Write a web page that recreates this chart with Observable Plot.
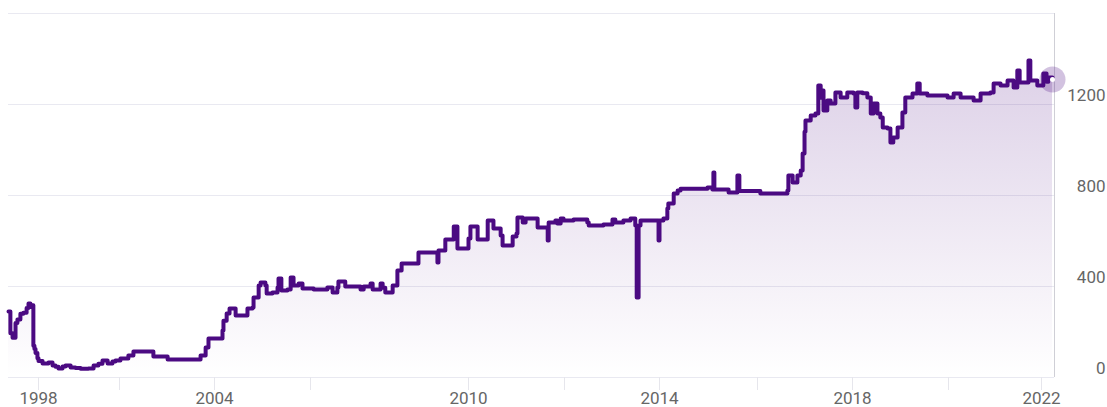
<!DOCTYPE html>
<html><head><meta charset="utf-8">
<script src="https://cdn.jsdelivr.net/npm/d3@7"></script>
<script src="https://cdn.jsdelivr.net/npm/@observablehq/plot@0.6"></script>
<style>body{margin:0;background:#fff;} #chart svg{display:block;}</style>
</head><body><div id="chart"></div>
<script>
// Decimal years of each level change
const years = [1996.89, 1996.96, 1997.04, 1997.15, 1997.22, 1997.33, 1997.44, 1997.56, 1997.63, 1997.70, 1997.78, 1997.81, 1997.85, 1997.89, 1997.96, 1998.00, 1998.15, 1998.37, 1998.52, 1998.63, 1998.74, 1998.89, 1999.00, 1999.19, 1999.37, 1999.56, 1999.85, 2000.04, 2000.22, 2000.37, 2000.56, 2000.74, 2000.85, 2001.03, 2001.28, 2001.44, 2002.07, 2002.52, 2003.56, 2003.72, 2003.81, 2004.25, 2004.28, 2004.38, 2004.47, 2004.66, 2005.03, 2005.19, 2005.22, 2005.38, 2005.44, 2005.59, 2005.63, 2005.81, 2005.97, 2006.00, 2006.09, 2006.28, 2006.38, 2006.47, 2006.63, 2006.75, 2007.06, 2007.32, 2007.42, 2007.51, 2007.53, 2007.66, 2007.95, 2008.01, 2008.14, 2008.18, 2008.33, 2008.37, 2008.42, 2008.56, 2008.65, 2008.73, 2009.05, 2009.41, 2009.43, 2009.56, 2009.72, 2009.79, 2010.00, 2010.04, 2010.19, 2010.40, 2010.52, 2010.67, 2010.71, 2010.92, 2011.00, 2011.02, 2011.13, 2011.19, 2011.44, 2011.65, 2011.67, 2011.81, 2011.85, 2011.92, 2011.98, 2012.19, 2012.48, 2012.51, 2012.69, 2012.82, 2013.01, 2013.07, 2013.24, 2013.39, 2013.49, 2013.52, 2013.56, 2013.60, 2013.98, 2014.00, 2014.08, 2014.16, 2014.18, 2014.29, 2014.37, 2014.43, 2014.98, 2015.08, 2015.10, 2015.12, 2015.41, 2015.59, 2015.63, 2016.06, 2016.63, 2016.65, 2016.74, 2016.84, 2016.91, 2016.95, 2016.99, 2017.01, 2017.12, 2017.22, 2017.28, 2017.33, 2017.37, 2017.39, 2017.47, 2017.54, 2017.64, 2017.75, 2017.89, 2018.02, 2018.06, 2018.10, 2018.21, 2018.31, 2018.38, 2018.44, 2018.52, 2018.58, 2018.63, 2018.73, 2018.79, 2018.85, 2018.94, 2019.04, 2019.10, 2019.25, 2019.35, 2019.40, 2019.56, 2019.98, 2020.11, 2020.26, 2020.54, 2020.69, 2020.90, 2020.97, 2021.12, 2021.27, 2021.40, 2021.48, 2021.53, 2021.72, 2021.76, 2021.91, 2022.04, 2022.11, 2022.15, 2022.24];
const values = [290, 195, 175, 240, 255, 280, 285, 305, 325, 310, 318, 140, 125, 108, 85, 72, 62, 66, 53, 47, 40, 48, 53, 44, 42, 38, 40, 53, 60, 75, 62, 70, 75, 84, 97, 114, 92, 79, 97, 132, 171, 207, 250, 281, 303, 273, 303, 308, 352, 404, 418, 404, 369, 374, 396, 435, 382, 387, 440, 404, 413, 391, 387, 396, 374, 396, 422, 400, 387, 400, 413, 387, 413, 395, 374, 404, 470, 501, 549, 505, 558, 607, 664, 567, 611, 664, 607, 690, 655, 624, 580, 620, 633, 703, 681, 699, 659, 602, 681, 690, 677, 699, 690, 695, 681, 668, 668, 673, 695, 681, 690, 699, 668, 352, 668, 690, 602, 690, 699, 743, 765, 809, 822, 830, 835, 826, 901, 826, 813, 888, 820, 809, 822, 888, 857, 888, 910, 985, 1080, 1130, 1152, 1160, 1283, 1230, 1262, 1174, 1218, 1204, 1253, 1231, 1253, 1248, 1187, 1253, 1250, 1231, 1160, 1204, 1160, 1143, 1099, 1095, 1033, 1055, 1099, 1165, 1231, 1248, 1292, 1248, 1240, 1231, 1248, 1231, 1218, 1248, 1253, 1292, 1283, 1305, 1275, 1349, 1297, 1393, 1305, 1283, 1336, 1300, 1319, 1310];

const tickYears = [1998, 2001, 2004, 2007, 2010, 2012, 2014, 2016, 2018, 2020, 2022];
const labelYears = [1998, 2004, 2010, 2014, 2018, 2022];
const yTicks = [0, 400, 800, 1200];
const yGrid = [0, 400, 800, 1200, 1600];

// ordinal-style (uneven) time axis: piecewise scale through the tick years
const xDomain = [years[0], ...tickYears, years[years.length - 1]];
const xRange = [8, 38, 119, 214, 310, 468, 564, 659, 757, 852, 948, 1041, 1052];

const data = years.map((year, i) => ({year, value: values[i]}));
const last = data[data.length - 1];
const purple = "#4b0a82";

const chart = Plot.plot({
  width: 1107, height: 407,
  marginTop: 13, marginBottom: 30, marginLeft: 8, marginRight: 53,
  style: {fontFamily: "Roboto, sans-serif", fontSize: "17px", background: "#fff", overflow: "visible"},
  x: {type: "linear", domain: xDomain, range: xRange, label: null},
  y: {domain: [0, 1600], label: null, axis: null},
  marks: [
    Plot.gridY(yGrid, {stroke: "#e9e9f1", strokeOpacity: 1}),
    Plot.areaY(data, {x: "year", y: "value", curve: "step-after", fill: "url(#navFill)"}),
    Plot.ruleX([last.year], {dx: 2, stroke: "#cfcfd6"}),
    Plot.axisX({ticks: tickYears, tickFormat: d => labelYears.includes(d) ? String(d) : "", tickSize: 13, tickPadding: 1, stroke: "#e6e6ec", fill: "#666", label: null}),
    Plot.text(yTicks, {y: d => d, text: d => String(d), frameAnchor: "right", textAnchor: "end", dx: 51, dy: -9, fill: "#666"}),
    Plot.lineY(data, {x: "year", y: "value", curve: "step-after", stroke: purple, strokeWidth: 4, strokeLinejoin: "round"}),
    Plot.dot([last], {x: "year", y: "value", r: 13, fill: purple, fillOpacity: 0.25, stroke: null}),
    Plot.dot([last], {x: "year", y: "value", r: 2.5, fill: "#fff", stroke: null})
  ]
});

const defs = d3.select(chart).insert("defs", ":first-child");
const grad = defs.append("linearGradient").attr("id", "navFill")
  .attr("x1", 0).attr("y1", 0).attr("x2", 0).attr("y2", 1);
grad.append("stop").attr("offset", "0%").attr("stop-color", purple).attr("stop-opacity", 0.19);
grad.append("stop").attr("offset", "100%").attr("stop-color", purple).attr("stop-opacity", 0.0);

document.getElementById("chart").appendChild(chart);
</script>
</body></html>
